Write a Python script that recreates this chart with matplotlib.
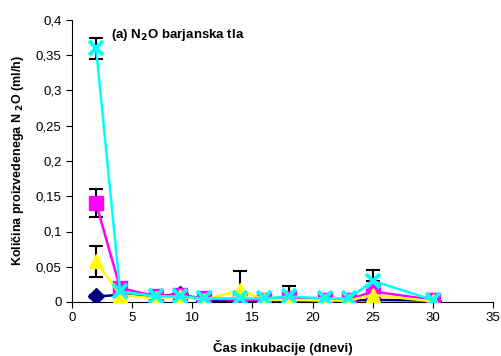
import numpy as np
import matplotlib.pyplot as plt
from matplotlib.ticker import FuncFormatter

plt.rcParams['font.family'] = ['Liberation Sans', 'DejaVu Sans']

days = [2, 4, 7, 9, 11, 14, 16, 18, 21, 23, 25, 30]

navy = [0.008, 0.010, 0.007, 0.012, 0.001, 0.001, 0.002, 0.001, 0.002, 0.002, 0.003, 0.002]
navy_err = [0.002, 0.002, 0.001, 0.002, 0.001, 0.001, 0.001, 0.001, 0.001, 0.001, 0.002, 0.001]

magenta = [0.140, 0.020, 0.008, 0.010, 0.005, 0.003, 0.003, 0.005, 0.003, 0.003, 0.015, 0.003]
magenta_err = [0.020, 0.003, 0.002, 0.002, 0.001, 0.001, 0.001, 0.002, 0.001, 0.001, 0.015, 0.001]

yellow = [0.058, 0.010, 0.005, 0.008, 0.003, 0.017, 0.003, 0.003, 0.002, 0.002, 0.010, 0.001]
yellow_err = [0.022, 0.003, 0.002, 0.002, 0.001, 0.027, 0.001, 0.002, 0.001, 0.001, 0.006, 0.001]

cyan = [0.360, 0.015, 0.008, 0.008, 0.005, 0.005, 0.005, 0.008, 0.005, 0.005, 0.030, 0.003]
cyan_err = [0.015, 0.003, 0.002, 0.002, 0.001, 0.001, 0.001, 0.014, 0.001, 0.001, 0.016, 0.001]

series = [
    (navy, navy_err, '#000080', 'D', 8.5),
    (magenta, magenta_err, '#ff00ff', 's', 9.5),
    (yellow, yellow_err, '#ffff00', '^', 10.5),
    (cyan, cyan_err, '#00ffff', 'x', 10.5),
]

fig = plt.figure(figsize=(5.02, 3.56), dpi=100)
ax = fig.add_axes([72 / 502, 1 - 302 / 356, 421 / 502, 282 / 356])

for vals, err, col, mk, ms in series:
    ax.errorbar(days, vals, yerr=err, fmt='none', ecolor='black', elinewidth=1.5,
                capsize=5, capthick=1.5, zorder=2)
for vals, err, col, mk, ms in series:
    ax.plot(days, vals, color=col, lw=1.8, marker=mk, ms=ms,
            mec=col, mew=2.8 if mk == 'x' else 1, zorder=3)

ax.set_xlim(0, 35)
ax.set_ylim(0, 0.4)
ax.set_xticks(np.arange(0, 36, 5))
ax.set_yticks(np.arange(0, 0.41, 0.05))
ax.yaxis.set_major_formatter(FuncFormatter(lambda v, p: ('%g' % round(v, 2)).replace('.', ',')))
ax.spines['top'].set_visible(False)
ax.spines['right'].set_visible(False)
ax.tick_params(direction='out', length=4, labelsize=9.5)

ax.set_xlabel('Čas inkubacije (dnevi)', fontsize=9.5, fontweight='bold', labelpad=11)
ax.set_ylabel('Količina proizvedenega N $_\\mathbf{2}$O (ml/h)', fontsize=9,
              fontweight='bold', labelpad=7)
ax.text(3.25, 0.375, '(a) N$_\\mathbf{2}$O barjanska tla', fontsize=9.5, fontweight='bold')

fig.savefig('out.png', dpi=100)
